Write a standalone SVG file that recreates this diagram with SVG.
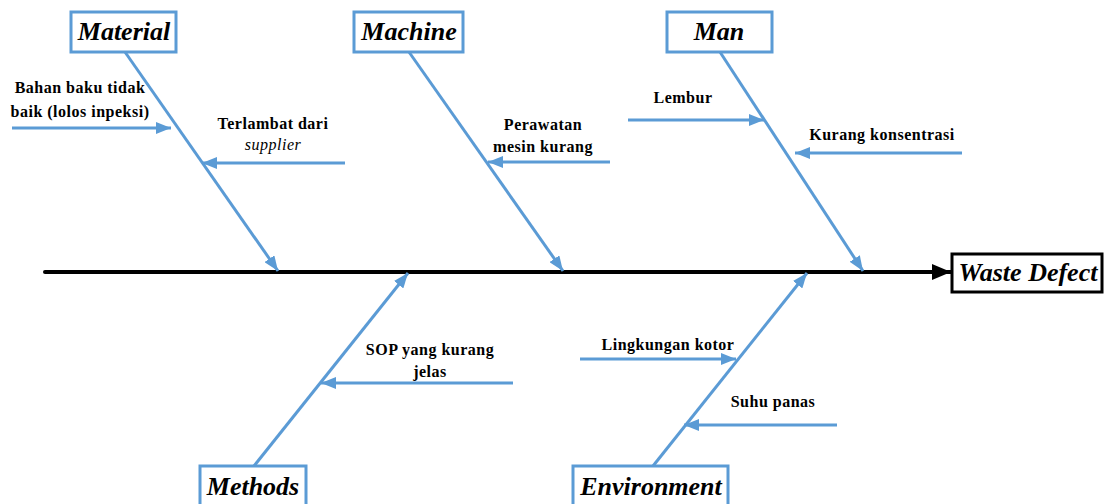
<svg xmlns="http://www.w3.org/2000/svg" width="1107" height="504" viewBox="0 0 1107 504">
<style>
.box{fill:#fff;stroke:#5b9bd5;stroke-width:3}
.hd{font-family:"Liberation Serif","Times New Roman",serif;font-weight:bold;font-style:italic;font-size:26px;fill:#000;text-anchor:middle}
.lb{font-family:"Liberation Serif","Times New Roman",serif;font-weight:bold;font-size:16px;letter-spacing:0.5px;fill:#000;text-anchor:middle}
.it{font-style:italic;font-weight:normal}
.b{stroke:#5b9bd5;stroke-width:3;fill:none;marker-end:url(#ah)}
</style>
<defs>
<marker id="ah" markerUnits="userSpaceOnUse" markerWidth="16" markerHeight="12" refX="15" refY="6" orient="auto">
<path d="M0,0 L15,6 L0,12 Z" fill="#5b9bd5"/>
</marker>
<marker id="ahk" markerUnits="userSpaceOnUse" markerWidth="20" markerHeight="16" refX="19" refY="8" orient="auto">
<path d="M0,0 L19,8 L0,16 Z" fill="#000"/>
</marker>
</defs>
<g id="connectors">
<line x1="45" y1="272" x2="951" y2="272" stroke="#000" stroke-width="4" stroke-linecap="round" marker-end="url(#ahk)"/>
<line class="b" x1="125" y1="52" x2="278" y2="271"/>
<line class="b" x1="409" y1="52" x2="563" y2="271"/>
<line class="b" x1="720" y1="52" x2="863" y2="271"/>
<line class="b" x1="254" y1="466" x2="408" y2="273"/>
<line class="b" x1="653" y1="466" x2="807" y2="273"/>
<line class="b" x1="12" y1="128" x2="171" y2="128"/>
<line class="b" x1="345" y1="163" x2="202" y2="163"/>
<line class="b" x1="610" y1="162" x2="488" y2="162"/>
<line class="b" x1="628" y1="120" x2="764" y2="120"/>
<line class="b" x1="962" y1="153" x2="795" y2="153"/>
<line class="b" x1="513" y1="383" x2="321" y2="383"/>
<line class="b" x1="580" y1="359" x2="736" y2="359"/>
<line class="b" x1="837" y1="425" x2="684" y2="425"/>
</g>
<g id="material"><rect class="box" x="71" y="12" width="105" height="40"/><text class="hd" x="124" y="40">Material</text></g>
<g id="machine"><rect class="box" x="354" y="12" width="109" height="40"/><text class="hd" x="409" y="40">Machine</text></g>
<g id="man"><rect class="box" x="667" y="12" width="105" height="40"/><text class="hd" x="719" y="40">Man</text></g>
<g id="methods"><rect class="box" x="200" y="466" width="106" height="44"/><text class="hd" x="253" y="495">Methods</text></g>
<g id="environment"><rect class="box" x="573" y="466" width="155" height="44"/><text class="hd" x="651" y="495">Environment</text></g>
<g id="waste-defect"><rect x="952" y="254" width="150" height="38" fill="#fff" stroke="#000" stroke-width="3"/><text class="hd" x="1028" y="281">Waste Defect</text></g>
<g id="c-bahan"><text class="lb" x="80" y="93">Bahan baku tidak</text><text class="lb" x="80" y="117">baik (lolos inpeksi)</text></g>
<g id="c-terlambat"><text class="lb" x="273" y="129">Terlambat dari</text><text class="lb it" x="273" y="150">supplier</text></g>
<g id="c-perawatan"><text class="lb" x="543" y="130">Perawatan</text><text class="lb" x="543" y="152">mesin kurang</text></g>
<g id="c-lembur"><text class="lb" x="683" y="103">Lembur</text></g>
<g id="c-konsentrasi"><text class="lb" x="882" y="140">Kurang konsentrasi</text></g>
<g id="c-sop"><text class="lb" x="430" y="355">SOP yang kurang</text><text class="lb" x="430" y="377">jelas</text></g>
<g id="c-lingkungan"><text class="lb" x="668" y="350">Lingkungan kotor</text></g>
<g id="c-suhu"><text class="lb" x="773" y="407">Suhu panas</text></g>
</svg>
